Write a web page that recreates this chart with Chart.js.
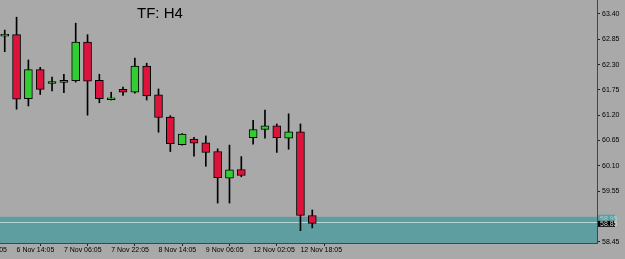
<!DOCTYPE html>
<html>
<head>
<meta charset="utf-8">
<script src="https://cdn.jsdelivr.net/npm/chart.js@4.4.0/dist/chart.umd.min.js"></script>
<style>
  html, body { margin: 0; padding: 0; background: #a9a9a9; }
  #wrap { position: relative; width: 625px; height: 259px; }
  #title { position: absolute; left: 137px; top: 4px; font: 15px/17px "Liberation Sans", Arial, sans-serif; color: #000; }
</style>
</head>
<body>
<div id="wrap">
  <canvas id="chart" width="625" height="259"></canvas>
  <div id="title">TF: H4</div>
</div>
<script>
// H4 candles, left to right
const opens  = [62.92, 62.95, 61.56, 62.19, 61.89, 61.91, 61.95, 62.79, 61.96, 61.54, 61.76, 61.70, 62.27, 61.64,
                61.16, 60.56, 60.68, 60.60, 60.41, 59.83, 60.02, 60.71, 60.89, 60.97, 60.70, 60.84, 59.02];
const highs  = [63.05, 63.33, 62.40, 62.24, 62.03, 62.09, 63.20, 62.95, 62.09, 61.70, 61.81, 62.44, 62.33, 61.77,
                61.19, 60.80, 60.72, 60.75, 60.47, 60.55, 60.30, 61.09, 61.31, 61.01, 61.23, 61.01, 59.14];
const lows   = [62.58, 61.33, 61.40, 61.65, 61.73, 61.69, 61.92, 61.20, 61.47, 61.53, 61.63, 61.68, 61.53, 60.83,
                60.41, 60.55, 60.31, 60.09, 59.29, 59.29, 59.86, 60.57, 60.70, 60.39, 60.46, 58.69, 58.75];
const closes = [62.96, 61.55, 62.19, 61.76, 61.93, 61.96, 62.79, 61.94, 61.56, 61.58, 61.70, 62.27, 61.62, 61.15,
                60.58, 60.79, 60.59, 60.39, 59.84, 60.01, 59.89, 60.89, 60.97, 60.71, 60.84, 59.02, 58.85];

// time axis labels (bar index -> label)
const timeTickIdx = [-3, 1, 5, 9, 13, 17, 21, 25];
const timeLabels = ["5 Nov 22:05", "6 Nov 14:05", "7 Nov 06:05", "7 Nov 22:05", "8 Nov 14:05",
                    "9 Nov 06:05", "12 Nov 02:05", "12 Nov 18:05"];

// price axis
const priceTicks = [63.40, 62.85, 62.30, 61.75, 61.20, 60.65, 60.10, 59.55, 58.45];

// zone and price markers
const zoneTop = 58.99;
const zoneLine = 58.88;
const markerUpper = 58.95;
const bidPrice = 58.85;

const UP = '#32cd32', DOWN = '#dc143c';
const FONT = '"Liberation Sans", Arial, sans-serif';

const zonePlugin = {
  id: 'zone',
  beforeDatasetsDraw(chart) {
    const { ctx, chartArea: a, scales: { y } } = chart;
    const top = y.getPixelForValue(zoneTop);
    ctx.save();
    ctx.fillStyle = '#5f9ea0';
    ctx.fillRect(a.left, top, a.right - a.left, a.bottom - top);
    const ly = Math.round(y.getPixelForValue(zoneLine)) + 0.5;
    ctx.strokeStyle = '#b4d6d6';
    ctx.lineWidth = 1;
    ctx.beginPath();
    ctx.moveTo(a.left, ly);
    ctx.lineTo(a.right, ly);
    ctx.stroke();
    ctx.restore();
  },
  afterDraw(chart) {
    const { ctx, chartArea: a, scales: { y } } = chart;
    ctx.save();
    ctx.font = '7px ' + FONT;
    ctx.textBaseline = 'middle';
    let py = y.getPixelForValue(markerUpper);
    ctx.fillStyle = '#5f9ea0';
    ctx.fillRect(a.right + 1, py - 4, 17, 7);
    ctx.fillStyle = '#a8d0d0';
    ctx.fillText(markerUpper.toFixed(2), a.right + 3, py);
    py = y.getPixelForValue(bidPrice);
    ctx.fillStyle = '#000';
    ctx.fillRect(a.right + 1, py - 2.5, 17, 6);
    ctx.fillStyle = '#d8d8d8';
    ctx.fillText(bidPrice.toFixed(2), a.right + 3, py + 0.5);
    ctx.restore();
  }
};

const idx = opens.map((_, i) => i);

new Chart(document.getElementById('chart'), {
  type: 'bar',
  data: {
    datasets: [
      {
        label: 'wick',
        data: idx.map(i => ({ x: i, y: [lows[i], highs[i]] })),
        backgroundColor: '#000',
        barThickness: 1,
        grouped: false,
        order: 2
      },
      {
        label: 'body',
        data: idx.map(i => ({ x: i, y: [opens[i], closes[i]] })),
        backgroundColor: idx.map(i => closes[i] >= opens[i] ? UP : DOWN),
        borderColor: '#000',
        borderWidth: 1,
        borderSkipped: false,
        barThickness: 8,
        grouped: false,
        order: 1
      }
    ]
  },
  options: {
    responsive: false,
    animation: false,
    events: [],
    layout: { padding: 0 },
    plugins: { legend: { display: false }, tooltip: { enabled: false } },
    scales: {
      x: {
        type: 'linear',
        position: 'bottom',
        offset: false,
        bounds: 'data',
        min: -0.4,
        max: 50.07,
        afterBuildTicks: s => { s.ticks = timeTickIdx.map(v => ({ value: v })); },
        afterFit: s => { s.height = 16; s.paddingLeft = 0; s.paddingRight = 0; },
        grid: { drawOnChartArea: false, drawTicks: true, tickLength: 3, color: '#222' },
        border: { display: true, color: '#444', width: 1 },
        ticks: {
          autoSkip: false,
          maxRotation: 0,
          align: 'start',
          padding: 0,
          color: '#000',
          font: { family: FONT, size: 7 },
          callback: v => timeLabels[timeTickIdx.indexOf(v)]
        }
      },
      y: {
        type: 'linear',
        position: 'right',
        min: 58.422,
        max: 63.704,
        afterBuildTicks: s => { s.ticks = priceTicks.map(v => ({ value: v })); },
        afterFit: s => { s.width = 28; s.paddingTop = 0; s.paddingBottom = 0; },
        grid: { drawOnChartArea: false, drawTicks: true, tickLength: 3, color: '#222' },
        border: { display: true, color: '#444', width: 1 },
        ticks: {
          padding: 2,
          color: '#000',
          font: { family: FONT, size: 7 },
          callback: v => v.toFixed(2)
        }
      }
    }
  },
  plugins: [zonePlugin]
});
</script>
</body>
</html>
